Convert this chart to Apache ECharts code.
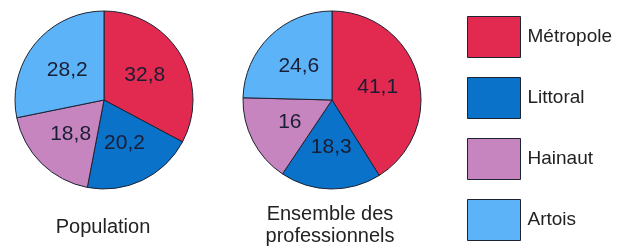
<!DOCTYPE html>
<html>
<head>
<meta charset="utf-8">
<script src="https://cdn.jsdelivr.net/npm/echarts@6/dist/echarts.min.js"></script>
<style>
html, body { margin: 0; padding: 0; background: #fff; }
#chart { width: 621px; height: 246px; }
</style>
</head>
<body>
<div id="chart"></div>
<script>
var regions = ['Métropole', 'Littoral', 'Hainaut', 'Artois'];
var colors = ['#E2294F', '#0B72C9', '#C685BE', '#5CB3F7'];
var population = [32.8, 20.2, 18.8, 28.2];
var professionnels = [41.1, 18.3, 16, 24.6];
var titles = ['Population', 'Ensemble des\nprofessionnels'];

function toData(values){
	var out = [];
	for (var i = 0; i < values.length; i++) {
		out.push({ name: regions[i], value: values[i] });
	}
	return out;
}

function pieSeries(values, cx){
	return {
		type: 'pie',
		radius: 89,
		center: [cx, 100],
		startAngle: 90,
		clockwise: true,
		animation: false,
		data: toData(values),
		itemStyle: { borderColor: '#1c2333', borderWidth: 1 },
		label: {
			show: true,
			position: 'inside',
			color: '#1a1d33',
			fontFamily: 'Liberation Sans',
			fontSize: 21,
			formatter: function(p){ return String(p.value).replace('.', ','); }
		},
		labelLine: { show: false },
		emphasis: { disabled: true }
	};
}

var chart = echarts.init(document.getElementById('chart'));
chart.setOption({
	color: colors,
	title: [
		{
			text: titles[0], left: 103, top: 217, textAlign: 'center', padding: 0,
			textStyle: { fontFamily: 'Liberation Sans', fontSize: 20, fontWeight: 'normal', color: '#222' }
		},
		{
			text: titles[1], left: 330, top: 203, textAlign: 'center', padding: 0,
			textStyle: { fontFamily: 'Liberation Sans', fontSize: 20, fontWeight: 'normal', color: '#222', lineHeight: 22 }
		}
	],
	legend: {
		orient: 'vertical',
		left: 467,
		top: 16,
		padding: 0,
		itemWidth: 53,
		itemHeight: 41,
		itemGap: 19,
		icon: 'rect',
		data: regions,
		itemStyle: { borderColor: '#1c2333', borderWidth: 1 },
		textStyle: { fontFamily: 'Liberation Sans', fontSize: 19, color: '#222', padding: [0, 0, 0, 2] }
	},
	series: [
		pieSeries(population, 104),
		pieSeries(professionnels, 332)
	]
});
</script>
</body>
</html>
